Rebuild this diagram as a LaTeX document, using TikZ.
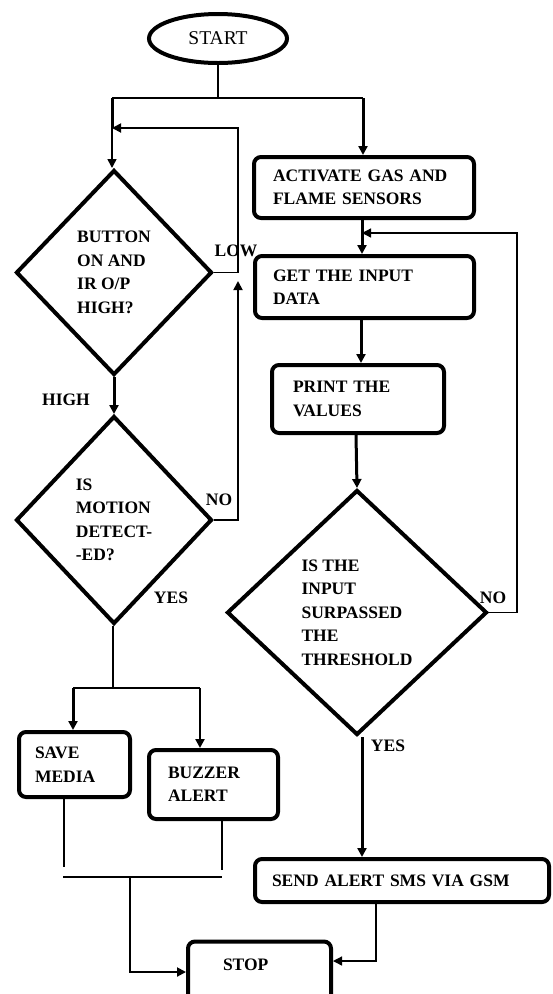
\documentclass[tikz,border=0pt]{standalone}
\usepackage{fontspec}
\setmainfont{Liberation Serif}
\usetikzlibrary{arrows.meta,shapes.geometric}
\begin{document}
\begin{tikzpicture}[x=1pt,y=-1pt,
  every node/.style={font=\fontsize{17.5}{23.5}\selectfont\bfseries},
  box/.style={draw, line width=4pt, rounded corners=7pt, align=left, inner ysep=0pt},
  dia/.style={draw, diamond, line width=4pt, inner sep=0pt, align=left},
  thk/.style={line width=3pt},
  thn/.style={line width=1.3pt},
  arr/.style={-{Triangle[length=9pt,width=9pt]}},
  lbl/.style={inner sep=0pt}]
\useasboundingbox (0,0) rectangle (553,994);
\clip (0,0) rectangle (553,994);

% nodes
\node[draw, ellipse, line width=4pt, minimum width=138pt, minimum height=49pt,
      font=\fontsize{19.5}{23.5}\selectfont] (start) at (218,38.5) {START};
\node[box, minimum width=220pt, minimum height=61pt, inner xsep=19pt, text width=182pt] (act) at (364,187.5) {ACTIVATE GAS AND\\FLAME SENSORS};
\node[box, minimum width=219pt, minimum height=62pt, inner xsep=18pt, text width=183pt] (get) at (364.5,287) {GET THE INPUT\\DATA};
\node[box, minimum width=172pt, minimum height=68pt, inner xsep=21pt, text width=130pt] (print) at (358,399) {PRINT THE\\VALUES};
\node[dia, minimum width=196pt, minimum height=205pt] (d1) at (114,272.5) {BUTTON\\ON AND\\IR O/P\\HIGH?};
\node[dia, minimum width=196pt, minimum height=208pt] (d2) at (114,520) {IS\\MOTION\\DETECT-\\-ED?};
\node[dia, minimum width=260pt, minimum height=245pt] (d3) at (357,612.5) {IS THE\\INPUT\\SURPASSED\\THE\\THRESHOLD};
\node[box, minimum width=111pt, minimum height=65pt, inner xsep=16pt, text width=79pt] (save) at (74.5,764.5) {SAVE\\MEDIA};
\node[box, minimum width=129pt, minimum height=69pt, inner xsep=19pt, text width=91pt] (buzz) at (213.5,784.5) {BUZZER\\ALERT};
\node[box, minimum width=294pt, minimum height=43pt, inner xsep=17pt, text width=260pt] (send) at (402,880.5) {SEND ALERT SMS VIA GSM};
\node[box, minimum width=143pt, minimum height=62pt, inner xsep=35pt, text width=73pt, text height=12pt, text depth=16pt] (stop) at (259.5,972.5) {STOP};

% labels
\node[lbl] (lhigh) at (66,400) {HIGH};
\node[lbl] (llow) at (236,251) {LOW};
\node[lbl] (lno1) at (219,500) {NO};
\node[lbl] (lyes1) at (171,598) {YES};
\node[lbl] (lno2) at (493,598) {NO};
\node[lbl] (lyes2) at (388,746) {YES};

% coordinates
\coordinate (split) at (218,98);
\coordinate (sL) at (112,98);
\coordinate (sR) at (363,98);
\coordinate (fb) at (112,128);
\coordinate (lowc) at (238,272.5);
\coordinate (lowt) at (238,128);
\coordinate (noc) at (238,520);
\coordinate (noa) at (238,281);
\coordinate (d2s) at (113,688);
\coordinate (bl) at (73,688);
\coordinate (br) at (200,688);
\coordinate (sv) at (64,867);
\coordinate (bz) at (222,870);
\coordinate (jl) at (63,877);
\coordinate (jr) at (222,877);
\coordinate (jm) at (130,877);
\coordinate (jb) at (130,972);
\coordinate (cA) at (362,0);
\coordinate (cB) at (361,0);
\coordinate (cC) at (356,0);
\coordinate (cD) at (362,0);
\coordinate (rno) at (517,612.5);
\coordinate (rtop) at (517,233);
\coordinate (sd) at (376,961);

% left column connectors
\draw[thn] (start.south) -- (split);
\draw[thn] (sL) -- (sR);
\draw[thk,arr] (sR) -- (sR |- act.north);
\draw[line width=3pt] (sL) -- (fb);
\draw[line width=1.6pt,arr] (fb) -- (fb |- d1.north);
\draw[thk,arr] (d1.south) -- (d2.north);
\draw[thn] (d1.east) -- (lowc);
\draw[line width=1.8pt,arr] (lowc) -- (lowt) -- (fb);
\draw[line width=1.8pt,arr] (d2.east) -- (noc) -- (noa);
\draw[thn] (d2s |- d2.south) -- (d2s);
\draw[thn] (bl) -- (br);
\draw[thk,arr] (bl) -- (bl |- save.north);
\draw[line width=2.5pt,arr] (br) -- (br |- buzz.north);
\draw[thn] (sv |- save.south) -- (sv);
\draw[thn] (bz |- buzz.south) -- (bz);
\draw[thn] (jl) -- (jr);
\draw[line width=2pt,arr] (jm) -- (jb) -- (jb -| stop.west);

% right column connectors
\draw[thk,arr] (cA |- act.south) -- (cA |- get.north);
\draw[thk,arr] (cB |- get.south) -- (cB |- print.north);
\draw[thk,arr] (cC |- print.south) -- (d3.north);
\draw[thk,arr] (cD |- d3.south) -- (cD |- send.north);
\draw[thn,arr] (d3.east) -- (rno) -- (rtop) -- (cA |- rtop);
\draw[thn,arr] (sd |- send.south) -- (sd) -- (sd -| stop.east);
\end{tikzpicture}
\end{document}
